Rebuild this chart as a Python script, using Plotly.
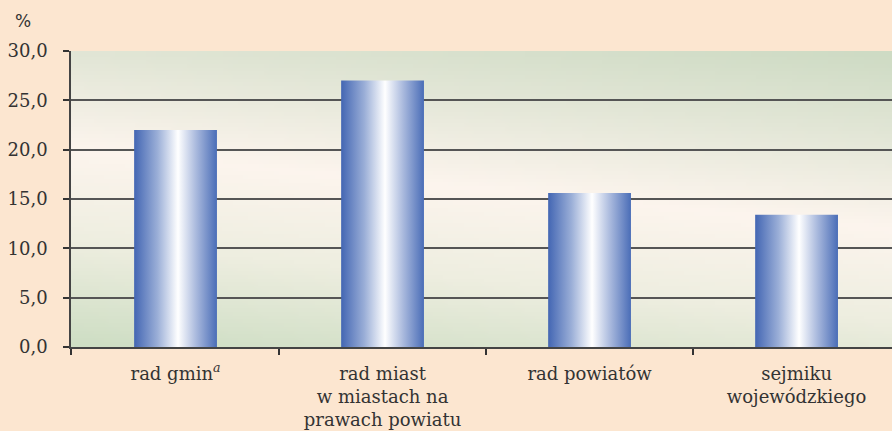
import base64, struct, zlib
import numpy as np
import plotly.graph_objects as go

categories = ["rad gmin<sup><i>a</i></sup>", "rad miast<br>w miastach na<br>prawach powiatu",
              "rad powiatów", "sejmiku<br>wojewódzkiego"]
values = [22.0, 27.0, 15.6, 13.4]
y_ticks = [0, 5, 10, 15, 20, 25, 30]

BAR_W = 0.40
PAGE_BG = "#FCE6D0"
FONT = "DejaVu Serif"


def png_data_uri(w=160, h=80):
    stops_u = [-0.30, 0.0, 0.33, 0.65, 1.0]
    stops_c = [(204, 218, 194), (226, 230, 214), (253, 245, 238), (238, 238, 224), (206, 222, 196)]
    xs = np.linspace(0, 1, w)
    ys = np.linspace(0, 1, h)
    X, Y = np.meshgrid(xs, ys)
    U = Y - 0.27 * X
    img = np.zeros((h, w, 3), dtype=np.uint8)
    for ch in range(3):
        img[:, :, ch] = np.interp(U, stops_u, [c[ch] for c in stops_c]).astype(np.uint8)
    raw = b"".join(b"\x00" + img[r].tobytes() for r in range(h))

    def chunk(t, d):
        c = struct.pack(">I", len(d)) + t + d
        return c + struct.pack(">I", zlib.crc32(t + d) & 0xFFFFFFFF)

    png = b"\x89PNG\r\n\x1a\n" + chunk(b"IHDR", struct.pack(">IIBBBBB", w, h, 8, 2, 0, 0, 0)) \
        + chunk(b"IDAT", zlib.compress(raw, 9)) + chunk(b"IEND", b"")
    return "data:image/png;base64," + base64.b64encode(png).decode()


fig = go.Figure()
bar_scale = [[0, "#4366B3"], [0.28, "#9AAED7"], [0.53, "#FFFFFF"], [0.75, "#A9B9DD"], [1, "#4A6DB7"]]
for i, v in enumerate(values):
    x0, x1 = i - BAR_W / 2, i + BAR_W / 2
    fig.add_trace(go.Scatter(
        x=[x0, x0, x1, x1, x0], y=[0, v, v, 0, 0],
        mode="lines", line=dict(width=0), fill="toself",
        fillgradient=dict(type="horizontal", colorscale=bar_scale, start=x0, stop=x1),
        hoverinfo="skip", showlegend=False))

fig.update_layout(
    width=892, height=431,
    margin=dict(l=71, r=0, t=51, b=84),
    paper_bgcolor=PAGE_BG, plot_bgcolor="rgba(0,0,0,0)",
    separators=", ",
    font=dict(family=FONT, size=18, color="#333333"),
    images=[dict(source=png_data_uri(), xref="paper", yref="paper", x=0, y=1,
                 sizex=1, sizey=1, sizing="stretch", layer="below", xanchor="left", yanchor="top")],
    xaxis=dict(range=[-0.505, 3.461], tickmode="array", tickvals=list(range(len(categories))),
               ticktext=categories, ticks="", showgrid=False, zeroline=False,
               showline=True, linecolor="#444444", linewidth=2, ticklabelstandoff=9,
               minor=dict(tickmode="array", tickvals=[-0.505, 0.5, 1.5, 2.5], ticks="outside",
                          ticklen=6, tickcolor="#333333", tickwidth=1.5, showgrid=False),
               tickfont=dict(family=FONT, size=18, color="#333333")),
    yaxis=dict(range=[0, 30], tickmode="array", tickvals=y_ticks, tickformat=".1f",
               ticks="outside", ticklen=6, tickcolor="#333333", tickwidth=1.5,
               ticklabelstandoff=12,
               showgrid=True, gridcolor="#555555", gridwidth=1.5, zeroline=False,
               showline=True, linecolor="#444444", linewidth=1.5,
               tickfont=dict(family=FONT, size=18, color="#333333")),
    annotations=[dict(text="%", xref="paper", yref="paper", x=-0.058, y=1.10,
                      xanchor="center", yanchor="middle", showarrow=False,
                      font=dict(family="DejaVu Sans", size=17, color="#333333"))],
)

fig.write_html("out.html", config={"displayModeBar": False},
               post_script="document.body.style.margin='0px';document.body.style.overflow='hidden';")
